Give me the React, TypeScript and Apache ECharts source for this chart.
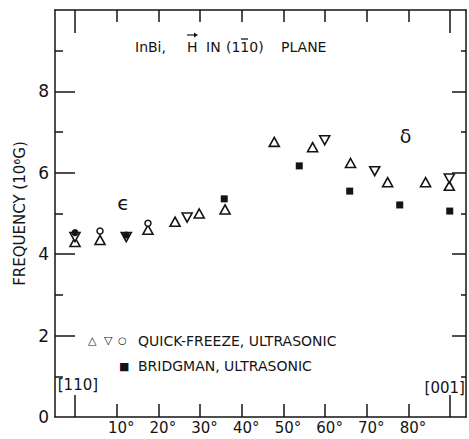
import React, { useEffect, useRef } from "react";
import * as echarts from "echarts";

// ---- data (angle in degrees, frequency in 10^6 G) ----
const triUp: number[][] = [
  [0, 4.3], [6, 4.35], [17.5, 4.6], [24, 4.8], [29.8, 5.0], [36, 5.1],
  [47.8, 6.76], [57, 6.63], [66.1, 6.24], [75, 5.77], [84.1, 5.77], [89.8, 5.68],
];
const triDown: number[][] = [
  [0, 4.42], [12.3, 4.42], [26.9, 4.9], [59.9, 6.8], [71.9, 6.04], [89.8, 5.86],
];
const openCircle: number[][] = [[6, 4.57], [17.5, 4.76]];
const filledCircle: number[][] = [[0, 4.53], [12.3, 4.47]];
const bridgman: number[][] = [
  [35.8, 5.36], [53.8, 6.17], [65.9, 5.55], [77.9, 5.21], [89.9, 5.06],
];
const annotations: [number, number, string, number][] = [
  [0.7, 0.79, "[110]", 15],
  [88.7, 0.72, "[001]", 15],
  [11.6, 5.25, "ϵ", 20],
  [79.3, 6.9, "δ", 19],
];
const xTickValues = [10, 20, 30, 40, 50, 60, 70, 80];
const xEndTicks = [0, 90];
const yLabelValues = [0, 2, 4, 6, 8];
const yMajorTicks = [2, 4, 6, 8];
const yMinorTicks = [1, 3, 5, 7, 9];

const INK = "#141414";
const FONT = "DejaVu Sans";

export default function App() {
  const ref = useRef<HTMLDivElement>(null);
  useEffect(() => {
    if (!ref.current) return;
    const chart = echarts.init(ref.current, null, { renderer: "svg" });
    const line = { color: INK, width: 1.5 };
    const xBase = { type: "value", min: -4.8, max: 93.8, splitLine: { show: false } };
    const yBase = { type: "value", min: 0, max: 10, splitLine: { show: false } };
    const hidden = { show: false };
    const txt = (left: number, top: number, text: string, fontSize = 14) => ({
      type: "text", left, top, style: { text, fontSize, fontFamily: FONT, fill: INK },
    });
    const open = { color: "#fff", borderColor: INK, borderWidth: 1.6, opacity: 1 };
    const solid = { color: INK, opacity: 1 };
    const option: any = {
      animation: false,
      backgroundColor: "#fff",
      textStyle: { fontFamily: FONT },
      grid: { left: 55, right: 3, top: 10, bottom: 22, show: false },
      xAxis: [
        {
          ...xBase, position: "bottom",
          axisLine: { show: true, onZero: false, lineStyle: line },
          axisTick: { show: true, inside: true, length: 13, customValues: xTickValues, lineStyle: line },
          axisLabel: {
            show: true, customValues: xTickValues, formatter: (v: number) => v + "°",
            color: INK, fontSize: 15, fontFamily: FONT, margin: 3, padding: [0, 0, 0, 9],
          },
        },
        {
          ...xBase, position: "bottom",
          axisLine: { show: false, onZero: false },
          axisTick: { show: true, inside: true, length: 22, customValues: xEndTicks, lineStyle: line },
          axisLabel: hidden,
        },
        {
          ...xBase, position: "top",
          axisLine: { show: true, onZero: false, lineStyle: line },
          axisTick: { show: true, inside: true, length: 12, customValues: xTickValues, lineStyle: line },
          axisLabel: hidden,
        },
        {
          ...xBase, position: "top",
          axisLine: { show: false, onZero: false },
          axisTick: { show: true, inside: true, length: 23, customValues: xEndTicks, lineStyle: line },
          axisLabel: hidden,
        },
      ],
      yAxis: [
        {
          ...yBase, position: "left",
          axisLine: { show: true, onZero: false, lineStyle: line },
          axisTick: { show: true, inside: true, length: 20, customValues: yMajorTicks, lineStyle: line },
          axisLabel: { show: true, customValues: yLabelValues, color: INK, fontSize: 17, fontFamily: FONT, margin: 6 },
          name: "FREQUENCY (10⁶G)",
          nameLocation: "middle",
          nameGap: 19,
          nameTextStyle: { color: INK, fontSize: 15, fontFamily: FONT },
        },
        {
          ...yBase, position: "left",
          axisLine: { show: false, onZero: false },
          axisTick: { show: true, inside: true, length: 8, customValues: yMinorTicks, lineStyle: line },
          axisLabel: hidden,
        },
        {
          ...yBase, position: "right",
          axisLine: { show: true, onZero: false, lineStyle: line },
          axisTick: { show: true, inside: true, length: 14, customValues: yMajorTicks, lineStyle: line },
          axisLabel: hidden,
        },
        {
          ...yBase, position: "right",
          axisLine: { show: false, onZero: false },
          axisTick: { show: true, inside: true, length: 5, customValues: yMinorTicks, lineStyle: line },
          axisLabel: hidden,
        },
      ],
      series: [
        { type: "scatter", name: "triUp", data: triUp, symbol: "triangle", symbolSize: [10, 9], itemStyle: open, z: 3 },
        { type: "scatter", name: "triDown", data: triDown, symbol: "triangle", symbolRotate: 180, symbolSize: [10, 9], itemStyle: open, z: 3 },
        { type: "scatter", name: "openCircle", data: openCircle, symbol: "circle", symbolSize: 6, itemStyle: { ...open, borderWidth: 1.5 }, z: 4 },
        { type: "scatter", name: "filledCircle", data: filledCircle, symbol: "circle", symbolSize: 7, itemStyle: solid, z: 5 },
        { type: "scatter", name: "bridgman", data: bridgman, symbol: "rect", symbolSize: 7, itemStyle: solid, z: 5 },
        {
          type: "scatter", name: "labels", symbolSize: 0, silent: true,
          itemStyle: solid,
          data: annotations.map((a) => ({
            value: [a[0], a[1]],
            label: {
              show: true, position: "inside", formatter: a[2], fontSize: a[3],
              color: INK, fontFamily: FONT, textBorderWidth: 0, opacity: 1,
            },
          })),
          z: 6,
        },
      ],
      graphic: [
        txt(135, 40, "InBi,"),
        txt(187, 40, "H"),
        { type: "line", shape: { x1: 187, y1: 35, x2: 195, y2: 35 }, style: { stroke: INK, lineWidth: 1.2 } },
        { type: "polygon", shape: { points: [[198, 35], [194, 32.5], [194, 37.5]] }, style: { fill: INK } },
        txt(206, 40, "IN"),
        txt(226, 40, "(110)"),
        { type: "line", shape: { x1: 241, y1: 39, x2: 248, y2: 39 }, style: { stroke: INK, lineWidth: 1.3 } },
        txt(281, 40, "PLANE"),
        txt(88, 335, "△", 11),
        txt(104, 335, "▽", 11),
        txt(118, 335, "○", 10),
        txt(138, 334, "QUICK-FREEZE, ULTRASONIC"),
        txt(119, 361, "■", 11),
        txt(138, 359, "BRIDGMAN, ULTRASONIC"),
      ],
    };
    chart.setOption(option);
    return () => chart.dispose();
  }, []);
  return (
    <div
      ref={ref}
      style={{ position: "fixed", left: 0, top: 0, width: 469, height: 439, background: "#fff" }}
    />
  );
}
